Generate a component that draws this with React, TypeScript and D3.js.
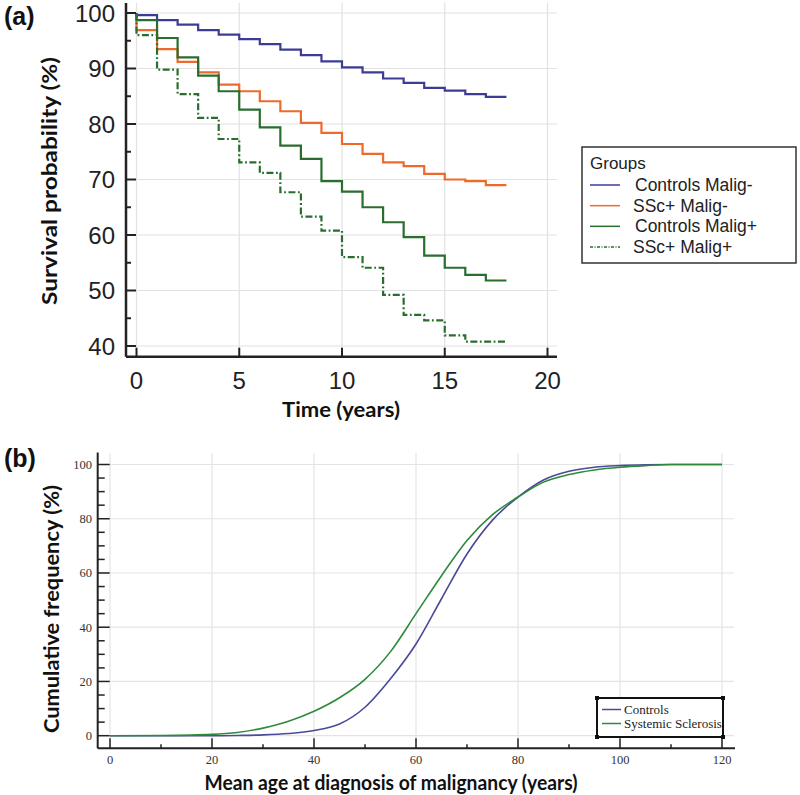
import * as d3 from 'd3';
import React, { useEffect, useRef } from 'react';

// panel (a): Kaplan-Meier style steps, one level per yearly interval
const stepYears = [0, 1, 2, 3, 4, 5, 6, 7, 8, 9, 10, 11, 12, 13, 14, 15, 16, 17];
const followUpEnd = 18;
const controlsMaligNeg = [99.6, 98.7, 97.9, 96.9, 96.1, 95.3, 94.4, 93.4, 92.4, 91.3, 90.2, 89.3, 88.2, 87.4, 86.5, 86.0, 85.4, 84.9];
const sscMaligNeg = [96.9, 93.5, 91.2, 89.3, 87.1, 85.9, 84.1, 82.3, 80.2, 78.4, 76.4, 74.6, 73.1, 72.4, 71.0, 70.0, 69.7, 69.0];
const controlsMaligPos = [98.7, 95.5, 92.0, 88.7, 85.9, 82.6, 79.4, 76.1, 73.7, 69.7, 67.8, 65.0, 62.3, 59.6, 56.3, 54.1, 52.8, 51.8];
const sscMaligPos = [96.0, 89.8, 85.4, 81.1, 77.3, 73.1, 71.2, 67.7, 63.3, 60.8, 56.0, 54.1, 49.2, 45.6, 44.6, 41.9, 40.8, 40.8];
const groupNames = ['Controls Malig-', 'SSc+ Malig-', 'Controls Malig+', 'SSc+ Malig+'];
const survivalTicks = [40, 50, 60, 70, 80, 90, 100];
const timeTicks = [0, 5, 10, 15, 20];

// panel (b): cumulative frequency by age
const ages = [0, 10, 20, 25, 30, 35, 40, 45, 50, 55, 60, 65, 70, 75, 80, 85, 90, 95, 100, 105, 110, 120];
const controlsCum = [0, 0, 0, 0.1, 0.3, 0.8, 1.9, 4.3, 10.5, 21, 33.8, 50.5, 67, 79.5, 88, 94.3, 97.5, 99, 99.6, 99.9, 100, 100];
const sscCum = [0, 0.1, 0.5, 1.2, 2.8, 5.3, 9, 14, 20.8, 31, 45, 59, 72, 81.5, 88, 93.5, 96.3, 98, 99, 99.6, 100, 100];
const cumNames = ['Controls', 'Systemic Sclerosis'];
const cumTicks = [0, 20, 40, 60, 80, 100];
const ageTicks = [0, 20, 40, 60, 80, 100, 120];

const sansFont = '"Liberation Sans", Arial, sans-serif';
const titleFont = 'Lato, "Open Sans", sans-serif';
const serifFont = '"Liberation Serif", "Times New Roman", serif';

export default function App(): React.JSX.Element {
  const svgRef = useRef<SVGSVGElement | null>(null);

  useEffect(() => {
    if (svgRef.current === null) return;
    const svg = d3.select(svgRef.current);
    svg.selectAll('*').remove();

    // ---------- (a) ----------
    const xA = d3.scaleLinear().domain([0, 20]).range([136.5, 547.5]);
    const yA = d3.scaleLinear().domain([40, 100]).range([346, 13]);
    const axisXA = 126;
    const axisYA = 356.7;
    const gA = svg.append('g');

    // grid
    gA.selectAll('line.vgrid')
      .data(timeTicks)
      .enter()
      .append('line')
      .attr('x1', (d) => xA(d)).attr('x2', (d) => xA(d))
      .attr('y1', 3).attr('y2', axisYA)
      .attr('stroke', '#e2e2e2').attr('stroke-width', 1.2);
    gA.selectAll('line.hgrid')
      .data(survivalTicks)
      .enter()
      .append('line')
      .attr('x1', axisXA).attr('x2', 557)
      .attr('y1', (d) => yA(d)).attr('y2', (d) => yA(d))
      .attr('stroke', '#e2e2e2').attr('stroke-width', 1.2);

    // curves
    const stepLine = d3.line<[number, number]>()
      .x((d) => xA(d[0]))
      .y((d) => yA(d[1]))
      .curve(d3.curveStepAfter);
    const stepPoints = (levels: number[]): [number, number][] => [
      [0, 100],
      ...stepYears.map((t, i) => [t, levels[i]] as [number, number]),
      [followUpEnd, levels[levels.length - 1]],
    ];
    const seriesA = [
      { levels: controlsMaligNeg, color: '#3c3c96', dash: null },
      { levels: sscMaligNeg, color: '#ee6a2c', dash: null },
      { levels: controlsMaligPos, color: '#2a6e2e', dash: null },
      { levels: sscMaligPos, color: '#2a6e2e', dash: '7,2.5,1.8,2.5' },
    ];
    seriesA.forEach((s) => {
      gA.append('path')
        .attr('d', stepLine(stepPoints(s.levels)) ?? '')
        .attr('fill', 'none')
        .attr('stroke', s.color)
        .attr('stroke-width', 2.2)
        .attr('stroke-dasharray', s.dash);
    });

    // axes
    gA.append('line')
      .attr('x1', axisXA).attr('x2', axisXA).attr('y1', 3).attr('y2', axisYA)
      .attr('stroke', '#222').attr('stroke-width', 2.5);
    gA.append('line')
      .attr('x1', axisXA).attr('x2', 557).attr('y1', axisYA).attr('y2', axisYA)
      .attr('stroke', '#222').attr('stroke-width', 2.5);
    gA.selectAll('line.ytickA')
      .data(d3.range(40, 101, 5))
      .enter()
      .append('line')
      .attr('x1', axisXA).attr('x2', (d) => axisXA + (d % 10 === 0 ? 10 : 5))
      .attr('y1', (d) => yA(d)).attr('y2', (d) => yA(d))
      .attr('stroke', '#222').attr('stroke-width', 2);
    gA.selectAll('line.xtickA')
      .data(timeTicks)
      .enter()
      .append('line')
      .attr('x1', (d) => xA(d)).attr('x2', (d) => xA(d))
      .attr('y1', axisYA).attr('y2', axisYA - 9)
      .attr('stroke', '#222').attr('stroke-width', 2);
    gA.selectAll('text.ylabA')
      .data(survivalTicks)
      .enter()
      .append('text')
      .attr('x', 115).attr('y', (d) => yA(d))
      .attr('dy', '0.36em')
      .attr('text-anchor', 'end')
      .attr('font-family', sansFont).attr('font-size', 24).attr('fill', '#222')
      .text((d) => d);
    gA.selectAll('text.xlabA')
      .data(timeTicks)
      .enter()
      .append('text')
      .attr('x', (d) => xA(d)).attr('y', 389)
      .attr('text-anchor', 'middle')
      .attr('font-family', sansFont).attr('font-size', 24).attr('fill', '#222')
      .text((d) => d);
    gA.append('text')
      .attr('x', 341).attr('y', 417)
      .attr('text-anchor', 'middle')
      .attr('font-family', titleFont).attr('font-weight', 700).attr('font-size', 20)
      .attr('textLength', 118).attr('lengthAdjust', 'spacingAndGlyphs')
      .attr('fill', '#111')
      .text('Time (years)');
    gA.append('text')
      .attr('transform', 'translate(57,181) rotate(-90)')
      .attr('text-anchor', 'middle')
      .attr('font-family', titleFont).attr('font-weight', 700).attr('font-size', 20)
      .attr('textLength', 248).attr('lengthAdjust', 'spacingAndGlyphs')
      .attr('fill', '#111')
      .text('Survival probability (%)');
    gA.append('text')
      .attr('x', 4).attr('y', 25)
      .attr('font-family', sansFont).attr('font-weight', 700).attr('font-size', 25)
      .attr('fill', '#111')
      .text('(a)');

    // legend (a)
    const legA = gA.append('g');
    legA.append('rect')
      .attr('x', 582).attr('y', 147).attr('width', 214).attr('height', 116)
      .attr('fill', 'white').attr('stroke', '#333').attr('stroke-width', 1.5);
    legA.append('text')
      .attr('x', 590).attr('y', 169)
      .attr('font-family', sansFont).attr('font-size', 17).attr('fill', '#222')
      .text('Groups');
    const legAY = d3.scalePoint<string>().domain(groupNames).range([185, 247]);
    seriesA.forEach((s, i) => {
      const y = legAY(groupNames[i]) ?? 0;
      legA.append('line')
        .attr('x1', 590).attr('x2', 620).attr('y1', y).attr('y2', y)
        .attr('stroke', s.color).attr('stroke-width', 1.5)
        .attr('stroke-dasharray', s.dash === null ? null : '3,1.5,1,1.5');
      legA.append('text')
        .attr('x', i % 2 === 0 ? 635 : 633).attr('y', y + 6)
        .attr('font-family', sansFont).attr('font-size', 17.5).attr('fill', '#222')
        .text(groupNames[i]);
    });

    // ---------- (b) ----------
    const xB = d3.scaleLinear().domain([0, 120]).range([110, 722]);
    const yB = d3.scaleLinear().domain([0, 100]).range([735.7, 464.5]);
    const axisXB = 97.7;
    const axisYB = 748.3;
    const gB = svg.append('g');

    gB.selectAll('line.vgridB')
      .data(ageTicks)
      .enter()
      .append('line')
      .attr('x1', (d) => xB(d)).attr('x2', (d) => xB(d))
      .attr('y1', 453).attr('y2', axisYB)
      .attr('stroke', '#e4e4e4').attr('stroke-width', 1.2);
    gB.selectAll('line.hgridB')
      .data(cumTicks)
      .enter()
      .append('line')
      .attr('x1', axisXB).attr('x2', 734)
      .attr('y1', (d) => yB(d)).attr('y2', (d) => yB(d))
      .attr('stroke', '#e4e4e4').attr('stroke-width', 1.2);

    const cumLine = d3.line<number>()
      .x((_, i) => xB(ages[i]))
      .y((d) => yB(d))
      .curve(d3.curveMonotoneX);
    const seriesB = [
      { values: controlsCum, color: '#4a4a98' },
      { values: sscCum, color: '#2c8a3a' },
    ];
    seriesB.forEach((s) => {
      gB.append('path')
        .attr('d', cumLine(s.values) ?? '')
        .attr('fill', 'none')
        .attr('stroke', s.color)
        .attr('stroke-width', 1.6);
    });

    gB.append('line')
      .attr('x1', axisXB).attr('x2', axisXB).attr('y1', 452.5).attr('y2', axisYB)
      .attr('stroke', '#222').attr('stroke-width', 2);
    gB.append('line')
      .attr('x1', axisXB).attr('x2', 735).attr('y1', axisYB).attr('y2', axisYB)
      .attr('stroke', '#222').attr('stroke-width', 2);
    gB.selectAll('line.ytickB')
      .data(d3.range(0, 101, 5))
      .enter()
      .append('line')
      .attr('x1', axisXB).attr('x2', (d) => axisXB + (d % 20 === 0 ? 12 : 7))
      .attr('y1', (d) => yB(d)).attr('y2', (d) => yB(d))
      .attr('stroke', '#222').attr('stroke-width', 1.5);
    gB.selectAll('line.xtickB')
      .data(d3.range(0, 121, 10))
      .enter()
      .append('line')
      .attr('x1', (d) => xB(d)).attr('x2', (d) => xB(d))
      .attr('y1', axisYB).attr('y2', (d) => axisYB - (d % 20 === 0 ? 10 : 4))
      .attr('stroke', '#222').attr('stroke-width', 1.5);
    gB.selectAll('text.ylabB')
      .data(cumTicks)
      .enter()
      .append('text')
      .attr('x', 92).attr('y', (d) => yB(d))
      .attr('dy', '0.35em')
      .attr('text-anchor', 'end')
      .attr('font-family', serifFont).attr('font-size', 12.5).attr('fill', '#333')
      .text((d) => d);
    gB.selectAll('text.xlabB')
      .data(ageTicks)
      .enter()
      .append('text')
      .attr('x', (d) => xB(d)).attr('y', 764)
      .attr('text-anchor', 'middle')
      .attr('font-family', serifFont).attr('font-size', 12.5).attr('fill', '#333')
      .text((d) => d);
    gB.append('text')
      .attr('x', 391).attr('y', 790)
      .attr('text-anchor', 'middle')
      .attr('font-family', titleFont).attr('font-weight', 700).attr('font-size', 20)
      .attr('textLength', 373).attr('lengthAdjust', 'spacingAndGlyphs')
      .attr('fill', '#111')
      .text('Mean age at diagnosis of malignancy (years)');
    gB.append('text')
      .attr('transform', 'translate(59,609) rotate(-90)')
      .attr('text-anchor', 'middle')
      .attr('font-family', titleFont).attr('font-weight', 700).attr('font-size', 20)
      .attr('textLength', 248).attr('lengthAdjust', 'spacingAndGlyphs')
      .attr('fill', '#111')
      .text('Cumulative frequency (%)');
    gB.append('text')
      .attr('x', 4).attr('y', 467)
      .attr('font-family', sansFont).attr('font-weight', 700).attr('font-size', 25)
      .attr('fill', '#111')
      .text('(b)');

    // legend (b)
    const legB = gB.append('g');
    legB.append('rect')
      .attr('x', 597).attr('y', 698).attr('width', 126).attr('height', 39)
      .attr('fill', 'white').attr('stroke', '#111').attr('stroke-width', 2);
    [[597, 698], [723, 698], [597, 737], [723, 737]].forEach(([cx, cy]) => {
      legB.append('rect')
        .attr('x', cx - 2).attr('y', cy - 2).attr('width', 4).attr('height', 4)
        .attr('fill', '#111');
    });
    const legBY = d3.scalePoint<string>().domain(cumNames).range([709.5, 723.5]);
    seriesB.forEach((s, i) => {
      const y = legBY(cumNames[i]) ?? 0;
      legB.append('line')
        .attr('x1', 602).attr('x2', 621).attr('y1', y).attr('y2', y)
        .attr('stroke', s.color).attr('stroke-width', 1.5);
      legB.append('text')
        .attr('x', 624).attr('y', y + 4)
        .attr('font-family', serifFont).attr('font-size', 13).attr('fill', '#222')
        .text(cumNames[i]);
    });
  }, []);

  return (
    <svg
      ref={svgRef}
      width={800}
      height={795}
      style={{ position: 'absolute', left: 0, top: 0, background: 'white' }}
    />
  );
}
